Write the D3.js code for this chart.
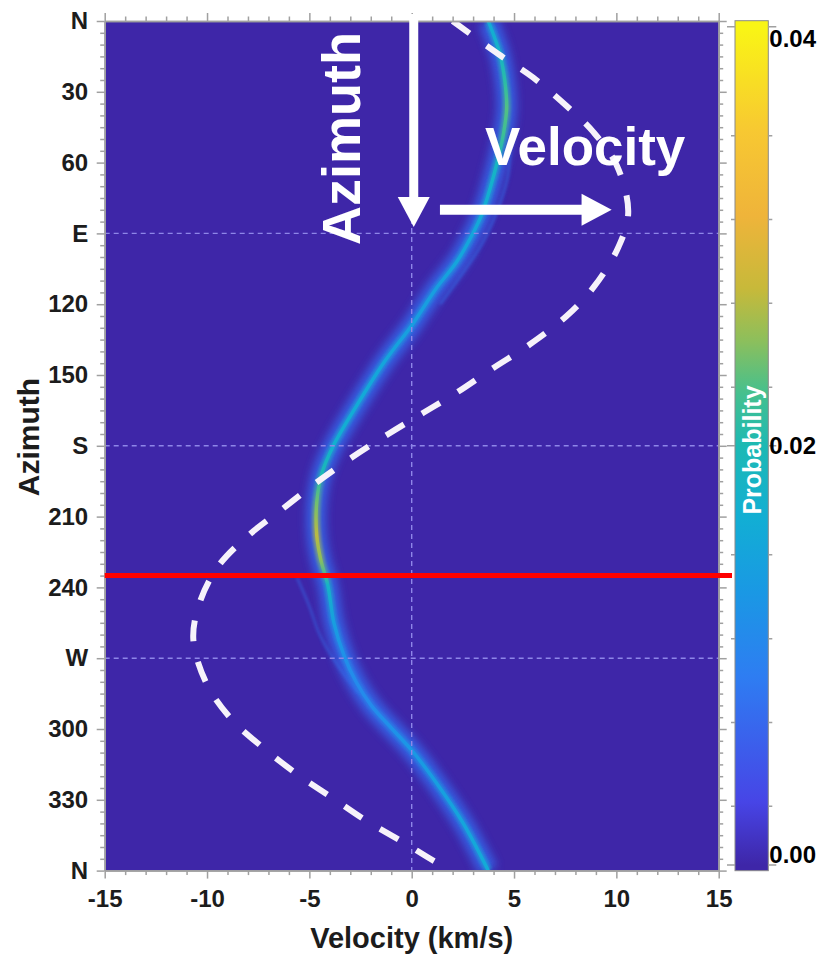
<!DOCTYPE html>
<html>
<head>
<meta charset="utf-8">
<script src="https://cdn.jsdelivr.net/npm/d3@7"></script>
<style>
body { margin: 0; background: #fff; }
text { font-family: "Liberation Sans", Arial, Helvetica, sans-serif; font-weight: bold; }
</style>
</head>
<body>
<div id="chart"></div>
<script>
// axis ticks
const velocityTicks = [-15, -10, -5, 0, 5, 10, 15];
const azimuthTicks = [0, 30, 60, 90, 120, 150, 180, 210, 240, 270, 300, 330, 360];
const azimuthLabels = ["N", "30", "60", "E", "120", "150", "S", "210", "240", "W", "300", "330", "N"];
const gridAzimuths = [90, 180, 270];
const gridVelocities = [0];
const markedAzimuth = 235;

// probability ridge (most likely velocity per azimuth)
const ridgeAz = [0, 14, 26, 37, 48, 58, 71, 82, 91, 102, 113, 120, 129, 144, 163, 180, 192, 204, 218, 228, 239, 255, 269, 280, 290, 300, 309, 323, 340, 360];
const ridgeVel = [3.74, 4.31, 4.56, 4.64, 4.48, 4.23, 3.83, 3.42, 2.93, 2.2, 1.22, 0.68, 0.0, -1.3, -2.69, -3.83, -4.4, -4.64, -4.64, -4.45, -4.1, -3.8, -3.3, -2.72, -1.98, -0.95, 0.0, 1.22, 2.52, 3.74];
const ridgeProb = [0.016, 0.018, 0.021, 0.023, 0.022, 0.019, 0.017, 0.016, 0.015, 0.015, 0.014, 0.014, 0.014, 0.015, 0.016, 0.017, 0.02, 0.024, 0.027, 0.025, 0.018, 0.014, 0.012, 0.011, 0.011, 0.012, 0.013, 0.014, 0.015, 0.016];

// faint side branches
const branchAAz = [55, 66, 80, 95, 108, 120];
const branchAVel = [4.8, 4.7, 4.2, 3.4, 2.4, 1.4];
const branchBAz = [236, 248, 260, 272, 285];
const branchBVel = [-5.6, -5.0, -4.5, -3.7, -2.6];
const branchProb = 0.008;

// dashed model curve
const modelAz = [0, 14, 24, 36, 47, 61, 81, 96, 113, 125, 137, 147, 157, 166, 175, 185, 196, 207, 218, 231, 246, 262, 281, 296, 308, 319, 329, 339, 348, 356, 360];
const modelVel = [2.0, 4.23, 5.94, 7.57, 8.87, 10.01, 10.58, 10.09, 8.87, 7.57, 5.78, 3.99, 2.28, 0.57, -1.14, -2.93, -4.72, -6.35, -7.98, -9.45, -10.34, -10.67, -10.01, -8.79, -7.25, -5.62, -3.91, -2.2, -0.41, 1.1, 2.0];

// colorbar
const probTicks = [0, 0.02, 0.04];
const probTickLabels = ["0.00", "0.02", "0.04"];
const probMinorTicks = [0.0028, 0.0068, 0.0108, 0.0148, 0.0228, 0.0268, 0.0308, 0.0348];
const colorValues = [0, 0.003, 0.009, 0.013, 0.0165, 0.02, 0.0225, 0.025, 0.0275, 0.031, 0.035, 0.04];
const colorHex = ["#3e26a8", "#4745e6", "#2e7df2", "#1a98e4", "#12aed4", "#1cb9b4", "#45c08e", "#8cbf5c", "#c7b93a", "#efb43a", "#f7c832", "#f9f515"];

const W = 827, H = 954;
const plotLeft = 104.7, plotRight = 718.7, plotTop = 21, plotBottom = 870.6;
const axisColor = "#a0a0a0";
const labelColor = "#1c1c1c";

const svg = d3.select("#chart").append("svg")
    .attr("width", W)
    .attr("height", H);

const x = d3.scaleLinear().domain([-15, 15]).range([plotLeft, plotRight]);
const y = d3.scaleLinear().domain([0, 360]).range([plotTop, plotBottom]);
const parula = d3.scaleLinear()
    .domain(colorValues)
    .range(colorHex)
    .clamp(true);

const defs = svg.append("defs");
defs.append("clipPath").attr("id", "plotClip")
    .append("rect")
    .attr("x", plotLeft).attr("y", plotTop)
    .attr("width", plotRight - plotLeft).attr("height", plotBottom - plotTop);

defs.append("filter").attr("id", "glow")
    .attr("x", "-50%").attr("y", "-10%").attr("width", "200%").attr("height", "120%")
    .append("feGaussianBlur").attr("stdDeviation", 4.5);
defs.append("filter").attr("id", "soft")
    .append("feGaussianBlur").attr("stdDeviation", 1.6);

// gradient along the ridge, following azimuth
const ridgeGrad = defs.append("linearGradient").attr("id", "ridgeGrad")
    .attr("gradientUnits", "userSpaceOnUse")
    .attr("x1", 0).attr("x2", 0)
    .attr("y1", y(0)).attr("y2", y(360));
ridgeAz.forEach((az, i) => {
    ridgeGrad.append("stop")
        .attr("offset", az / 360)
        .attr("stop-color", parula(ridgeProb[i]));
});

// plot background = zero probability
svg.append("rect")
    .attr("x", plotLeft).attr("y", plotTop)
    .attr("width", plotRight - plotLeft).attr("height", plotBottom - plotTop)
    .attr("fill", parula(0));

const plot = svg.append("g").attr("clip-path", "url(#plotClip)");

const line = d3.line()
    .x(d => x(d[1]))
    .y(d => y(d[0]))
    .curve(d3.curveCatmullRom.alpha(0.5));

const ridge = ridgeAz.map((a, i) => [a, ridgeVel[i]]);
const branchA = branchAAz.map((a, i) => [a, branchAVel[i]]);
const branchB = branchBAz.map((a, i) => [a, branchBVel[i]]);
const model = modelAz.map((a, i) => [a, modelVel[i]]);

// halo around ridge
plot.append("path")
    .attr("d", line(ridge))
    .attr("fill", "none")
    .attr("stroke", parula(0.007))
    .attr("stroke-width", 20)
    .attr("opacity", 0.8)
    .attr("filter", "url(#glow)");

[branchA, branchB].forEach(b => {
    plot.append("path")
        .attr("d", line(b))
        .attr("fill", "none")
        .attr("stroke", parula(branchProb))
        .attr("stroke-width", 2)
        .attr("opacity", 0.6)
        .attr("filter", "url(#soft)");
});

plot.append("path")
    .attr("d", line(ridge))
    .attr("fill", "none")
    .attr("stroke", "url(#ridgeGrad)")
    .attr("stroke-width", 8)
    .attr("opacity", 0.6)
    .attr("filter", "url(#soft)");

plot.append("path")
    .attr("d", line(ridge))
    .attr("fill", "none")
    .attr("stroke", "url(#ridgeGrad)")
    .attr("stroke-width", 3.4);

// dotted reference lines
plot.selectAll(".hgrid").data(gridAzimuths).join("line")
    .attr("x1", plotLeft).attr("x2", plotRight)
    .attr("y1", d => y(d)).attr("y2", d => y(d))
    .attr("stroke", "#8e86e8")
    .attr("stroke-width", 1.4)
    .attr("stroke-dasharray", "5,4");
plot.selectAll(".vgrid").data(gridVelocities).join("line")
    .attr("x1", d => x(d)).attr("x2", d => x(d))
    .attr("y1", plotTop).attr("y2", plotBottom)
    .attr("stroke", "#8e86e8")
    .attr("stroke-width", 1.4)
    .attr("stroke-dasharray", "5,4");

// dashed model curve
plot.append("path")
    .attr("d", line(model))
    .attr("fill", "none")
    .attr("stroke", "#f6f2fa")
    .attr("stroke-width", 6)
    .attr("stroke-dasharray", "21,21");

// axes
function styleAxis(g) {
    g.selectAll(".domain").attr("stroke", axisColor).attr("stroke-width", 1.5);
    g.selectAll(".tick line").attr("stroke", axisColor).attr("stroke-width", 1.5);
    g.selectAll("text").attr("fill", labelColor).style("font-size", "24px");
}

const minorAz = d3.range(0, 361, 5).filter(d => d % 30 !== 0);
const minorVel = d3.range(-15, 16, 1).filter(d => d % 5 !== 0);

svg.append("g").attr("transform", `translate(${plotLeft},0)`)
    .call(d3.axisLeft(y).tickValues(azimuthTicks).tickFormat((d, i) => azimuthLabels[i]).tickSize(8).tickSizeOuter(0).tickPadding(8.5))
    .call(styleAxis);
svg.append("g").attr("transform", `translate(${plotLeft},0)`)
    .call(d3.axisLeft(y).tickValues(minorAz).tickFormat("").tickSize(4.5).tickSizeOuter(0))
    .call(styleAxis);
svg.append("g").attr("transform", `translate(${plotRight},0)`)
    .call(d3.axisRight(y).tickValues(azimuthTicks).tickFormat("").tickSize(8).tickSizeOuter(0))
    .call(styleAxis);
svg.append("g").attr("transform", `translate(${plotRight},0)`)
    .call(d3.axisRight(y).tickValues(minorAz).tickFormat("").tickSize(4.5).tickSizeOuter(0))
    .call(styleAxis);
svg.append("g").attr("transform", `translate(0,${plotBottom})`)
    .call(d3.axisBottom(x).tickValues(velocityTicks).tickFormat(d => String(d)).tickSize(8).tickSizeOuter(0).tickPadding(11))
    .call(styleAxis);
svg.append("g").attr("transform", `translate(0,${plotBottom})`)
    .call(d3.axisBottom(x).tickValues(minorVel).tickFormat("").tickSize(4.5).tickSizeOuter(0))
    .call(styleAxis);
svg.append("g").attr("transform", `translate(0,${plotTop})`)
    .call(d3.axisTop(x).tickValues(velocityTicks).tickFormat("").tickSize(8).tickSizeOuter(0))
    .call(styleAxis);
svg.append("g").attr("transform", `translate(0,${plotTop})`)
    .call(d3.axisTop(x).tickValues(minorVel).tickFormat("").tickSize(4.5).tickSizeOuter(0))
    .call(styleAxis);

// red marker line at chosen azimuth
svg.append("line")
    .attr("x1", plotLeft).attr("x2", 732)
    .attr("y1", y(markedAzimuth)).attr("y2", y(markedAzimuth))
    .attr("stroke", "#ff0000")
    .attr("stroke-width", 5);

// annotation arrows
const arrowV = 0.1;
svg.append("line")
    .attr("x1", x(arrowV)).attr("x2", x(arrowV))
    .attr("y1", 14).attr("y2", y(75))
    .attr("stroke", "#fff").attr("stroke-width", 9);
svg.append("path")
    .attr("d", `M${x(arrowV) - 16},${y(74.6)} L${x(arrowV) + 16},${y(74.6)} L${x(arrowV)},${y(87.3)} Z`)
    .attr("fill", "#fff");

const arrowAz = 80;
svg.append("line")
    .attr("x1", x(1.38)).attr("x2", x(8.4))
    .attr("y1", y(arrowAz)).attr("y2", y(arrowAz))
    .attr("stroke", "#fff").attr("stroke-width", 10);
svg.append("path")
    .attr("d", `M${x(8.3)},${y(arrowAz) - 16} L${x(8.3)},${y(arrowAz) + 16} L${x(9.77)},${y(arrowAz)} Z`)
    .attr("fill", "#fff");

svg.append("text")
    .attr("transform", "translate(360,245) rotate(-90)")
    .attr("fill", "#fff")
    .style("font-size", "54px")
    .text("Azimuth");

svg.append("text")
    .attr("x", 485).attr("y", 165)
    .attr("fill", "#fff")
    .style("font-size", "53px")
    .text("Velocity");

// axis titles
svg.append("text")
    .attr("x", (plotLeft + plotRight) / 2).attr("y", 948)
    .attr("text-anchor", "middle")
    .attr("fill", labelColor)
    .style("font-size", "29px")
    .text("Velocity (km/s)");

svg.append("text")
    .attr("transform", "translate(39,437) rotate(-90)")
    .attr("text-anchor", "middle")
    .attr("fill", labelColor)
    .style("font-size", "30px")
    .text("Azimuth");

// colorbar
const cbX = 735, cbW = 33.3, cbTop = 20.7, cbBottom = 870.7;
const c = d3.scaleLinear().domain([0, 0.04]).range([865, 26.7]);

const cbGrad = defs.append("linearGradient").attr("id", "cbGrad")
    .attr("gradientUnits", "userSpaceOnUse")
    .attr("x1", 0).attr("x2", 0)
    .attr("y1", c(0)).attr("y2", c(0.04));
colorValues.forEach((v, i) => {
    cbGrad.append("stop")
        .attr("offset", v / 0.04)
        .attr("stop-color", colorHex[i]);
});

svg.append("rect")
    .attr("x", cbX).attr("y", cbTop)
    .attr("width", cbW).attr("height", cbBottom - cbTop)
    .attr("fill", "url(#cbGrad)")
    .attr("stroke", "#8a8a8a")
    .attr("stroke-width", 1);

const cbTicks = svg.append("g");
cbTicks.selectAll(".maj").data(probTicks).join("path")
    .attr("d", d => `M${cbX - 8},${c(d)}H${cbX} M${cbX + cbW},${c(d)}H${cbX + cbW + 8}`)
    .attr("stroke", axisColor).attr("stroke-width", 1.5);
cbTicks.selectAll(".min").data(probMinorTicks).join("path")
    .attr("d", d => `M${cbX - 4},${c(d)}H${cbX} M${cbX + cbW},${c(d)}H${cbX + cbW + 4}`)
    .attr("stroke", axisColor).attr("stroke-width", 1.5);

cbTicks.selectAll("text").data(probTicks).join("text")
    .attr("x", cbX + cbW + 1)
    .attr("y", d => Math.min(Math.max(c(d), cbTop + 18), cbBottom - 16))
    .attr("dy", "0.36em")
    .attr("fill", "#000")
    .style("font-size", "24px")
    .text((d, i) => probTickLabels[i]);

svg.append("text")
    .attr("transform", `translate(${cbX + cbW / 2 + 9},450) rotate(-90)`)
    .attr("text-anchor", "middle")
    .attr("fill", "#fff")
    .style("font-size", "25px")
    .text("Probability");
</script>
</body>
</html>
